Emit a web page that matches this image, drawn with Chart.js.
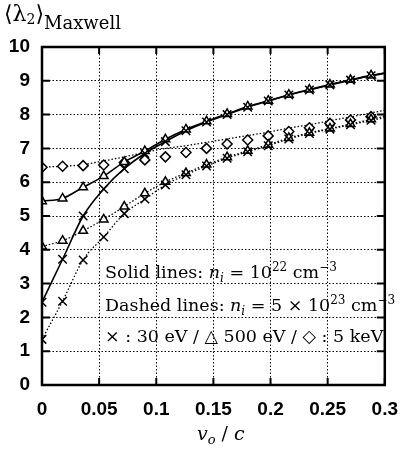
<!DOCTYPE html>
<html>
<head>
<meta charset="utf-8">
<script src="https://cdn.jsdelivr.net/npm/chart.js@4"></script>
<style>
  html, body { margin: 0; padding: 0; background: #fff; }
  #grafico { display: block; }
</style>
</head>
<body>
<canvas id="grafico" width="411" height="455"></canvas>
<script>
// Velocidades v_o / c de los puntos
const velocidades = [0, 0.018, 0.036, 0.054, 0.072, 0.09, 0.108, 0.126, 0.144, 0.162, 0.18, 0.198, 0.216, 0.234, 0.252, 0.27, 0.288];
// Velocidades de las curvas de ajuste (llegan al borde derecho)
const velocidadesCurva = [0, 0.018, 0.036, 0.054, 0.072, 0.09, 0.108, 0.126, 0.144, 0.162, 0.18, 0.198, 0.216, 0.234, 0.252, 0.27, 0.288, 0.3];

// Puntos, n_i = 1e22 cm^-3
const puntos30eVSolido = [2.45, 3.72, 5.0, 5.8, 6.4, 6.85, 7.2, 7.52, 7.78, 8.0, 8.22, 8.4, 8.58, 8.73, 8.88, 9.02, 9.15];
const puntos500eVSolido = [5.44, 5.52, 5.85, 6.18, 6.6, 6.92, 7.27, 7.56, 7.8, 8.02, 8.24, 8.41, 8.59, 8.74, 8.89, 9.03, 9.16];
// Puntos, n_i = 5e23 cm^-3
const puntos30eVDiscontinuo = [1.35, 2.48, 3.7, 4.38, 5.07, 5.5, 5.92, 6.22, 6.48, 6.71, 6.9, 7.08, 7.28, 7.44, 7.57, 7.7, 7.83];
const puntos500eVDiscontinuo = [4.1, 4.27, 4.56, 4.9, 5.28, 5.67, 6.01, 6.27, 6.52, 6.74, 6.93, 7.11, 7.31, 7.46, 7.59, 7.72, 7.86];
const puntos5keV = [6.44, 6.47, 6.49, 6.51, 6.58, 6.66, 6.75, 6.88, 7.0, 7.13, 7.25, 7.37, 7.5, 7.61, 7.74, 7.84, 7.94];

// Curvas de ajuste
const curva30eVSolido = [2.45, 3.72, 5.0, 5.8, 6.4, 6.85, 7.2, 7.52, 7.78, 8.0, 8.22, 8.4, 8.58, 8.73, 8.88, 9.02, 9.15, 9.22];
const curva500eVSolido = [5.44, 5.52, 5.85, 6.18, 6.6, 6.92, 7.27, 7.56, 7.8, 8.02, 8.24, 8.41, 8.59, 8.74, 8.89, 9.03, 9.16, 9.23];
const curva30eVDiscontinuo = [1.35, 2.48, 3.7, 4.38, 5.07, 5.5, 5.92, 6.22, 6.48, 6.71, 6.9, 7.08, 7.28, 7.44, 7.57, 7.7, 7.83, 7.91];
const curva500eVDiscontinuo = [4.1, 4.27, 4.56, 4.9, 5.28, 5.67, 6.01, 6.27, 6.52, 6.74, 6.93, 7.11, 7.31, 7.46, 7.59, 7.72, 7.86, 7.95];
const curva5keV = [6.45, 6.47, 6.52, 6.63, 6.75, 6.88, 7.0, 7.08, 7.18, 7.28, 7.38, 7.48, 7.6, 7.7, 7.82, 7.93, 8.05, 8.13];

const ticksX = [0, 0.05, 0.1, 0.15, 0.2, 0.25, 0.3];
const ticksY = [0, 1, 2, 3, 4, 5, 6, 7, 8, 9, 10];

const SERIF = '"DejaVu Serif", "Liberation Serif", serif';
const SANS = '"Liberation Sans", Arial, sans-serif';
const PUNTEADO = [1.5, 2];

function pares(xs, ys) {
  return xs.map((x, i) => ({ x: x, y: ys[i] }));
}

function curva(ys, punteada) {
  return {
    data: pares(velocidadesCurva, ys),
    showLine: true,
    borderColor: '#000',
    borderWidth: punteada ? 1.3 : 1.6,
    borderDash: punteada ? PUNTEADO : [],
    pointRadius: 0,
    cubicInterpolationMode: 'monotone',
    fill: false
  };
}

function puntos(ys, estilo, radio) {
  return {
    data: pares(velocidades, ys),
    showLine: false,
    pointStyle: estilo,
    pointRadius: radio,
    pointBorderColor: '#000',
    pointBackgroundColor: '#fff',
    pointBorderWidth: 1.5
  };
}

// Dibuja un texto con partes de distinto estilo (subíndices, superíndices)
function dibujarTexto(ctx, x, y, partes) {
  partes.forEach(p => {
    ctx.font = (p.estilo || 'normal') + ' ' + p.tam + 'px ' + (p.familia || SERIF);
    ctx.fillText(p.t, x, y + (p.dy || 0));
    x += ctx.measureText(p.t).width;
  });
  return x;
}

const marcoYTextos = {
  id: 'marcoYTextos',
  afterDraw(chart) {
    const ctx = chart.ctx;
    const a = chart.chartArea;
    const sx = chart.scales.x;
    const sy = chart.scales.y;
    ctx.save();
    ctx.strokeStyle = '#000';
    ctx.fillStyle = '#000';

    // Marcas hacia adentro
    ctx.lineWidth = 2;
    ticksX.forEach(v => {
      const px = sx.getPixelForValue(v);
      ctx.beginPath();
      ctx.moveTo(px, a.bottom); ctx.lineTo(px, a.bottom - 7);
      ctx.moveTo(px, a.top); ctx.lineTo(px, a.top + 7);
      ctx.stroke();
    });
    ticksY.forEach(v => {
      const py = sy.getPixelForValue(v);
      ctx.beginPath();
      ctx.moveTo(a.left, py); ctx.lineTo(a.left + 8, py);
      ctx.moveTo(a.right, py); ctx.lineTo(a.right - 8, py);
      ctx.stroke();
    });

    // Marco
    ctx.lineWidth = 2.5;
    ctx.strokeRect(a.left, a.top, a.right - a.left, a.bottom - a.top);

    // Título del eje Y
    ctx.textBaseline = 'alphabetic';
    ctx.textAlign = 'left';
    dibujarTexto(ctx, 4, 21, [
      { t: '\u27E8\u03BB', tam: 22 },
      { t: '2', tam: 14, dy: 3 },
      { t: '\u27E9', tam: 22 },
      { t: 'Maxwell', tam: 18, dy: 8 }
    ]);

    // Título del eje X
    dibujarTexto(ctx, 197, 440, [
      { t: 'v', tam: 19, estilo: 'italic' },
      { t: 'o', tam: 13, estilo: 'italic', dy: 4 },
      { t: ' / ', tam: 19 },
      { t: 'c', tam: 19, estilo: 'italic' }
    ]);

    // Anotaciones
    dibujarTexto(ctx, 105, 278, [
      { t: 'Solid lines: ', tam: 17.5 },
      { t: 'n', tam: 17.5, estilo: 'italic' },
      { t: 'i', tam: 12, estilo: 'italic', dy: 4 },
      { t: ' = 10', tam: 17.5 },
      { t: '22', tam: 12, dy: -7 },
      { t: ' cm', tam: 17.5 },
      { t: '\u22123', tam: 12, dy: -7 }
    ]);
    dibujarTexto(ctx, 105, 311, [
      { t: 'Dashed lines: ', tam: 17.5 },
      { t: 'n', tam: 17.5, estilo: 'italic' },
      { t: 'i', tam: 12, estilo: 'italic', dy: 4 },
      { t: ' = 5 \u00D7 10', tam: 17.5 },
      { t: '23', tam: 12, dy: -7 },
      { t: ' cm', tam: 17.5 },
      { t: '\u22123', tam: 12, dy: -7 }
    ]);
    dibujarTexto(ctx, 105, 342, [
      { t: '\u00D7 : 30 eV / \u25B3 500 eV / \u25C7 : 5 keV', tam: 17.5 }
    ]);
    ctx.restore();
  }
};

new Chart(document.getElementById('grafico').getContext('2d'), {
  type: 'scatter',
  data: {
    datasets: [
      puntos(puntos30eVSolido, 'crossRot', 6),
      puntos(puntos500eVSolido, 'triangle', 5),
      puntos(puntos30eVDiscontinuo, 'crossRot', 6),
      puntos(puntos500eVDiscontinuo, 'triangle', 5),
      puntos(puntos5keV, 'rectRot', 5),
      curva(curva30eVSolido, false),
      curva(curva500eVSolido, false),
      curva(curva30eVDiscontinuo, true),
      curva(curva500eVDiscontinuo, true),
      curva(curva5keV, true)
    ]
  },
  options: {
    responsive: false,
    animation: false,
    devicePixelRatio: 1,
    layout: { padding: { top: 47, right: 15, left: 0, bottom: 0 } },
    plugins: { legend: { display: false }, tooltip: { enabled: false } },
    scales: {
      x: {
        type: 'linear',
        min: 0,
        max: 0.3,
        afterBuildTicks: s => { s.ticks = ticksX.map(v => ({ value: v })); },
        afterFit: s => { s.height = 70; },
        grid: { color: '#000', lineWidth: 1, drawTicks: false },
        border: { display: false, dash: PUNTEADO },
        ticks: {
          color: '#000',
          padding: 13,
          maxRotation: 0,
          font: { family: SANS, size: 19, weight: 'bold' },
          callback: v => String(v)
        }
      },
      y: {
        type: 'linear',
        min: 0,
        max: 10,
        afterBuildTicks: s => { s.ticks = ticksY.map(v => ({ value: v })); },
        afterFit: s => { s.width = 42; },
        grid: { color: '#000', lineWidth: 1, drawTicks: false },
        border: { display: false, dash: PUNTEADO },
        ticks: {
          color: '#000',
          padding: 12,
          font: { family: SANS, size: 19, weight: 'bold' },
          callback: v => String(v)
        }
      }
    }
  },
  plugins: [marcoYTextos]
});
</script>
</body>
</html>
